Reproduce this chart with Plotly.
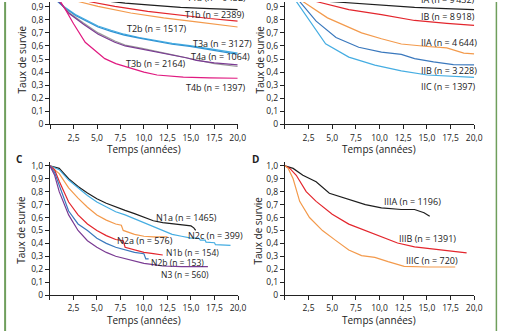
import plotly.graph_objects as go

# ---------------- Panel A : stade T ----------------
a_T1a_t = [0, 2, 4.7, 6.5, 8, 10.4, 13.9, 17, 20]
a_T1a_s = [1.0, 0.985, 0.955, 0.94, 0.928, 0.915, 0.895, 0.885, 0.878]
a_T1b_t = [0, 2, 4.1, 6.9, 10.4, 13.9, 17, 20]
a_T1b_s = [1.0, 0.98, 0.94, 0.903, 0.865, 0.835, 0.81, 0.79]
a_T2a_t = [0, 1.5, 3.0, 5.1, 8.6, 12.1, 15.6, 20]
a_T2a_s = [1.0, 0.975, 0.94, 0.903, 0.852, 0.815, 0.785, 0.745]
a_T2b_t = [0, 0.4, 0.8, 1.5, 2.7, 4, 5.1, 6.5, 7.9, 9.5, 11.4, 13, 14.9, 17, 20]
a_T2b_s = [1.0, 0.98, 0.945, 0.9, 0.84, 0.79, 0.753, 0.72, 0.69, 0.665, 0.64, 0.62, 0.603, 0.58, 0.545]
a_T3a_t = [0, 0.4, 0.8, 1.5, 2.7, 4, 5.1, 6.5, 7.9, 9.5, 11.4, 13, 14.9, 17, 20]
a_T3a_s = [1.0, 0.978, 0.94, 0.895, 0.833, 0.782, 0.745, 0.712, 0.683, 0.66, 0.633, 0.613, 0.597, 0.572, 0.535]
a_T3b_t = [0, 0.5, 1.1, 2, 3.56, 5.13, 6.9, 8, 9.7, 11.5, 13.2, 14.5, 15.6, 17.5, 20]
a_T3b_s = [1.0, 0.97, 0.927, 0.85, 0.766, 0.69, 0.628, 0.6, 0.578, 0.55, 0.528, 0.51, 0.49, 0.47, 0.455]
a_T4a_t = [0, 0.5, 1.1, 2, 3.56, 5.13, 6.9, 8, 9.7, 11.5, 13.2, 14.5, 15.6, 17.5, 20]
a_T4a_s = [1.0, 0.972, 0.93, 0.856, 0.775, 0.7, 0.638, 0.607, 0.583, 0.553, 0.53, 0.51, 0.492, 0.465, 0.443]
a_T4b_t = [0, 0.5, 1.1, 1.64, 2.5, 3.74, 5, 5.83, 7, 8.6, 10, 11.4, 14.2, 17, 20]
a_T4b_s = [1.0, 0.97, 0.94, 0.878, 0.77, 0.628, 0.55, 0.503, 0.465, 0.428, 0.4, 0.378, 0.361, 0.356, 0.353]

# ---------------- Panel B : stades I-II ----------------
b_IA_t = [0, 2, 4.7, 8.5, 13.7, 17, 20]
b_IA_s = [1.0, 0.98, 0.94, 0.92, 0.895, 0.885, 0.878]
b_IB_t = [0, 1.5, 3.3, 6.75, 10.2, 13.7, 17.1, 20]
b_IB_s = [1.0, 0.98, 0.94, 0.878, 0.84, 0.795, 0.773, 0.758]
b_IIA_t = [0, 1, 1.9, 4.5, 6.75, 8.1, 10.2, 12.3, 15.05, 17.1, 18.9, 20]
b_IIA_s = [1.0, 0.97, 0.94, 0.815, 0.74, 0.70, 0.655, 0.615, 0.596, 0.585, 0.545, 0.54]
b_IIB_t = [0, 0.7, 1.56, 3.3, 5.4, 7.8, 10.2, 12.3, 13.7, 15.7, 17.8, 20]
b_IIB_s = [1.0, 0.975, 0.94, 0.79, 0.665, 0.59, 0.553, 0.536, 0.503, 0.478, 0.458, 0.455]
b_IIC_t = [0, 0.6, 1.21, 2.6, 4.3, 6.75, 9.5, 12.3, 15.05, 20]
b_IIC_s = [1.0, 0.975, 0.94, 0.79, 0.616, 0.515, 0.453, 0.41, 0.378, 0.36]

# ---------------- Panel C : stade N ----------------
c_N1a_t = [0, 1, 2, 3, 4, 5, 6, 7, 8, 9, 10, 11, 12, 13, 14, 15, 15.3, 15.5]
c_N1a_s = [1.0, 0.98, 0.9, 0.84, 0.79, 0.745, 0.71, 0.68, 0.655, 0.63, 0.6, 0.575, 0.56, 0.55, 0.545, 0.535, 0.52, 0.5]
c_N2c_t = [0, 1, 2, 3, 4, 5, 6, 7, 8, 9, 10, 11, 12, 13, 14, 15, 15.8, 16.0, 16.5, 16.6, 17.5, 17.6, 19.2]
c_N2c_s = [1.0, 0.97, 0.89, 0.83, 0.77, 0.72, 0.68, 0.645, 0.62, 0.59, 0.56, 0.53, 0.5, 0.47, 0.455, 0.44, 0.44, 0.425, 0.425, 0.41, 0.405, 0.39, 0.385]
c_N2a_t = [0, 1, 2, 3, 4, 5, 6, 7, 7.6, 7.8, 9, 10, 11, 12.5]
c_N2a_s = [1.0, 0.94, 0.83, 0.75, 0.68, 0.62, 0.58, 0.55, 0.54, 0.5, 0.47, 0.455, 0.45, 0.45]
c_N1b_t = [0, 0.5, 1, 2, 3, 4, 5, 6, 7, 7.8, 8.0, 9, 10, 11, 12]
c_N1b_s = [1.0, 0.97, 0.88, 0.72, 0.62, 0.55, 0.5, 0.46, 0.43, 0.42, 0.37, 0.35, 0.33, 0.32, 0.31]
c_N2b_t = [0, 0.5, 1, 2, 3, 4, 5, 6, 7, 8, 9, 10, 10.2, 10.5]
c_N2b_s = [1.0, 0.95, 0.85, 0.65, 0.55, 0.5, 0.44, 0.4, 0.37, 0.35, 0.33, 0.32, 0.28, 0.28]
c_N3_t = [0, 0.5, 1, 2, 3, 4, 5, 6, 7, 8, 9, 10, 11, 12, 14, 16.8]
c_N3_s = [1.0, 0.93, 0.8, 0.62, 0.5, 0.42, 0.37, 0.33, 0.3, 0.28, 0.26, 0.245, 0.235, 0.225, 0.22, 0.22]

# ---------------- Panel D : stade III ----------------
d_IIIA_t = [0, 0.87, 1.9, 3.3, 4.7, 6.75, 8.5, 10.2, 12.3, 13.7, 14.7, 15.3]
d_IIIA_s = [1.0, 0.98, 0.927, 0.877, 0.788, 0.738, 0.7, 0.675, 0.662, 0.662, 0.637, 0.61]
d_IIIB_t = [0, 0.52, 1.2, 2.25, 3.3, 5.0, 6.75, 8.5, 10.2, 11.9, 13.7, 15.4, 17.1, 19.2]
d_IIIB_s = [1.0, 0.98, 0.927, 0.8, 0.725, 0.625, 0.549, 0.499, 0.448, 0.403, 0.373, 0.36, 0.348, 0.327]
d_IIIC_t = [0, 0.35, 0.87, 1.56, 2.6, 3.97, 5.36, 6.75, 8.1, 9.5, 10.9, 12.6, 15.05, 18.0]
d_IIIC_s = [1.0, 0.98, 0.9, 0.725, 0.6, 0.499, 0.423, 0.348, 0.305, 0.292, 0.259, 0.222, 0.217, 0.217]

y_tickvals = [0, 0.1, 0.2, 0.3, 0.4, 0.5, 0.6, 0.7, 0.8, 0.9, 1.0]
y_ticktext = ["0", "0,1", "0,2", "0,3", "0,4", "0,5", "0,6", "0,7", "0,8", "0,9", "1,0"]
x_tickvals = [0, 2.5, 5, 7.5, 10, 12.5, 15, 17.5, 20]
x_ticktext = ["", "2,5", "5,0", "7,5", "10,0", "12,5", "15,0", "17,5", "20,0"]

BLACK = "#1e1e1e"
RED = "#e3262d"
ORANGE = "#f39a4c"
LBLUE = "#45ade2"
DBLUE = "#3a78bd"
BLUE2 = "#2f93d3"
PURPLE = "#7a3b93"
GRAY = "#9a9a9a"
MAGENTA = "#e01a80"

W, H = 511, 336
FONT = "Open Sans"

fig = go.Figure()

def curve(t, s, color, ax):
    fig.add_trace(go.Scatter(x=t, y=s, mode="lines", line=dict(color=color, width=1.2),
                             xaxis="x" + ax, yaxis="y" + ax, showlegend=False, hoverinfo="skip"))

# panel A
curve(a_T1a_t, a_T1a_s, BLACK, "")
curve(a_T1b_t, a_T1b_s, RED, "")
curve(a_T2a_t, a_T2a_s, ORANGE, "")
curve(a_T2b_t, a_T2b_s, LBLUE, "")
curve(a_T3a_t, a_T3a_s, BLUE2, "")
curve(a_T4a_t, a_T4a_s, GRAY, "")
curve(a_T3b_t, a_T3b_s, PURPLE, "")
curve(a_T4b_t, a_T4b_s, MAGENTA, "")
# panel B
curve(b_IA_t, b_IA_s, BLACK, "2")
curve(b_IB_t, b_IB_s, RED, "2")
curve(b_IIA_t, b_IIA_s, ORANGE, "2")
curve(b_IIB_t, b_IIB_s, DBLUE, "2")
curve(b_IIC_t, b_IIC_s, LBLUE, "2")
# panel C
curve(c_N1a_t, c_N1a_s, BLACK, "3")
curve(c_N2c_t, c_N2c_s, LBLUE, "3")
curve(c_N2a_t, c_N2a_s, ORANGE, "3")
curve(c_N1b_t, c_N1b_s, RED, "3")
curve(c_N2b_t, c_N2b_s, DBLUE, "3")
curve(c_N3_t, c_N3_s, PURPLE, "3")
# panel D
curve(d_IIIA_t, d_IIIA_s, BLACK, "4")
curve(d_IIIB_t, d_IIIB_s, RED, "4")
curve(d_IIIC_t, d_IIIC_s, ORANGE, "4")

def px_x(p):
    return p / W

def px_y(p):
    return 1 - p / H

tick_font = dict(family=FONT, size=8.5, color="#222")

def xax(x0, x1, anchor):
    return dict(domain=[px_x(x0), px_x(x1)], range=[0, 20], anchor=anchor,
                tickvals=x_tickvals, ticktext=x_ticktext, ticks="outside", ticklen=4,
                tickcolor="#222", showline=True, linecolor="#222", linewidth=1,
                showgrid=False, zeroline=False, tickfont=tick_font, fixedrange=True,
                ticklabelstandoff=1)

def yax(y0, y1, top, anchor):
    return dict(domain=[px_y(y0), px_y(y1)], range=[0, top], anchor=anchor,
                tickvals=y_tickvals, ticktext=y_ticktext, ticks="outside", ticklen=4,
                tickcolor="#222", showline=True, linecolor="#222", linewidth=1,
                showgrid=False, zeroline=False, tickfont=tick_font, fixedrange=True)

# axis geometry (pixel positions in the 511x336 page)
A_x = (51, 242); B_x = (290, 482.7)
top_y0 = 125.0; top_scale = 133.5
bot_y0 = 299.3; bot_scale = 132.0
top_range = top_y0 / top_scale
bot_top = 1.03

xa = xax(*A_x, "y")
ya = yax(top_y0, 0, top_range, "x")
xb = xax(*B_x, "y2")
yb = yax(top_y0, 0, top_range, "x2")
xc = xax(50.7, 242.3, "y3")
yc = yax(bot_y0, bot_y0 - bot_top * bot_scale, bot_top, "x3")
xd = xax(*B_x, "y4")
yd = yax(bot_y0, bot_y0 - bot_top * bot_scale, bot_top, "x4")

ann = []

def label(text, x, y, size=9, xanchor="left", **kw):
    ann.append(dict(text=text, x=px_x(x), y=px_y(y), xref="paper", yref="paper",
                    showarrow=False, xanchor=xanchor, yanchor="middle", borderpad=0,
                    font=dict(family=FONT, size=size, color="#222"), **kw))

# curve labels
label("T1a (n = 9432)", 189, -4.5)
label("T1b (n = 2389)", 187, 12.7)
label("T2b (n = 1517)", 128, 26.7)
label("T3a (n = 3127)", 195, 42.7)
label("T4a (n = 1064)", 193, 56)
label("T3b (n = 2164)", 127, 62.3)
label("T4b (n = 1397)", 188, 87.3)

label("IA (n = 9\u2009432)", 428, -3)
label("IB (n = 8\u2009918)", 428, 15)
label("IIA (n = 4\u2009644)", 428, 41.7)
label("IIB (n = 3\u2009228)", 428, 70)
label("IIC (n = 1397)", 428, 86.7)

label("N1a (n = 1465)", 158, 220)
label("N2c (n = 399)", 190, 238)
label("N2a (n = 576)", 118, 244)
label("N1b (n = 154)", 168, 255.5, size=8.5)
label("N2b (n = 153)", 153, 266.5, size=8.5)
label("N3 (n = 560)", 163, 278.5, size=8.5)

label("IIIA (n = 1196)", 390, 203.3)
label("IIIB (n = 1391)", 405, 241.7)
label("IIIC (n = 720)", 412, 264.3)

# axis titles
for cx, cy in [(146.5, 150), (386.3, 150), (146.5, 325), (386.3, 325)]:
    label("Temps (années)", cx, cy, size=10, xanchor="center")
for cx, cy in [(22, 59), (264.5, 59), (22, 233), (263, 233)]:
    label("Taux de survie", cx, cy, size=10, xanchor="center", textangle=-90)

# panel letters
label("<b>C</b>", 20, 160.7, size=10, xanchor="center")
label("<b>D</b>", 260, 160.7, size=10, xanchor="center")

shapes = [
    dict(type="line", xref="paper", yref="paper", x0=px_x(5.2), x1=px_x(5.2), y0=0, y1=1,
         line=dict(color="#6f9e5c", width=2)),
    dict(type="line", xref="paper", yref="paper", x0=px_x(505.3), x1=px_x(505.3), y0=0, y1=1,
         line=dict(color="#6f9e5c", width=1.5)),
]

fig.update_layout(
    width=W, height=H, margin=dict(l=0, r=0, t=0, b=0),
    paper_bgcolor="white", plot_bgcolor="white",
    xaxis=xa, yaxis=ya, xaxis2=xb, yaxis2=yb, xaxis3=xc, yaxis3=yc, xaxis4=xd, yaxis4=yd,
    annotations=ann, shapes=shapes, font=dict(family=FONT),
)

fig.write_html("out.html")
